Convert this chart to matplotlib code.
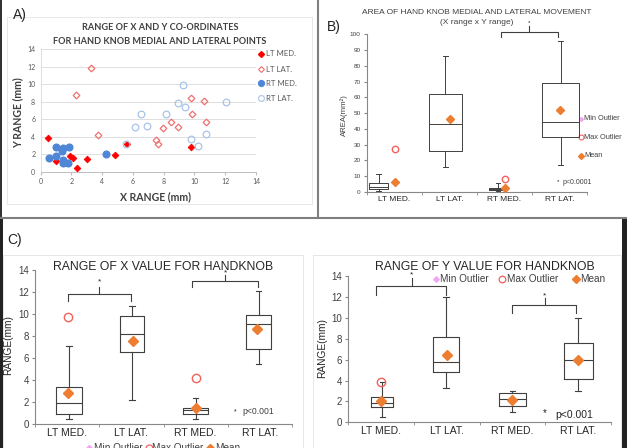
import matplotlib
matplotlib.use("Agg")
import matplotlib.pyplot as plt
from matplotlib.patches import Rectangle

# ---------------- data ----------------
# Panel A scatter
lt_med_x = [0.5, 1.0, 1.9, 2.1, 2.35, 3.0, 4.85, 5.6, 9.8]
lt_med_y = [3.9, 1.25, 1.8, 1.55, 0.5, 1.5, 1.9, 3.25, 2.85]
lt_lat_x = [3.3, 2.3, 3.75, 7.5, 7.6, 7.95, 8.45, 8.9, 9.8, 9.85, 10.65, 10.75]
lt_lat_y = [11.9, 8.8, 4.2, 3.6, 3.15, 5.0, 5.7, 5.15, 8.5, 6.6, 8.1, 5.75]
rt_med_x = [0.55, 1.0, 1.0, 1.4, 1.45, 1.45, 1.45, 1.75, 1.85, 4.25]
rt_med_y = [1.6, 2.9, 1.85, 2.45, 2.75, 1.35, 1.0, 1.05, 2.9, 2.1]
rt_lat_x = [5.55, 6.1, 6.55, 6.9, 8.15, 8.9, 9.25, 9.4, 9.8, 10.25, 10.75, 12.05]
rt_lat_y = [3.2, 5.1, 6.6, 5.3, 6.6, 7.85, 9.9, 7.4, 3.75, 2.95, 4.3, 8.0]
scatter_series = ["LT MED.", "LT LAT.", "RT MED.", "RT LAT."]

categories = ["LT MED.", "LT LAT.", "RT MED.", "RT LAT."]

# Panel B: area
b_lo = [0.8, 15.6, 0.4, 17.3]
b_q1 = [1.7, 25.8, 1.3, 35.1]
b_med = [3.4, 42.9, 2.2, 44.2]
b_q3 = [5.7, 62.2, 2.7, 69.3]
b_hi = [11.4, 86.3, 5.5, 96.0]
b_mean = [6.1, 46.5, 2.5, 52.0]
b_out = [27.5, None, 8.5, None]

# Panel C: x range
c_lo = [0.48, 2.2, 0.48, 5.47]
c_q1 = [0.97, 6.56, 0.9, 6.8]
c_med = [1.97, 8.22, 1.3, 9.07]
c_q3 = [3.42, 9.83, 1.5, 9.92]
c_hi = [7.14, 10.76, 2.36, 12.07]
c_mean = [2.84, 7.56, 1.45, 8.65]
c_out = [9.77, None, 4.23, None]

# Panel D: y range
d_lo = [0.54, 3.25, 1.02, 3.03]
d_q1 = [1.5, 4.82, 1.56, 4.15]
d_med = [1.88, 5.77, 2.26, 5.96]
d_q3 = [2.46, 8.2, 2.77, 7.56]
d_hi = [3.89, 12.02, 2.95, 9.95]
d_mean = [2.07, 6.41, 2.14, 5.96]
d_out = [3.89, None, None, None]

legend_labels = ["Min Outlier", "Max Outlier", "Mean"]

# ---------------- layout helpers ----------------
W, H = 627, 448
plt.rcParams['font.family'] = ['Liberation Sans', 'DejaVu Sans']
fig = plt.figure(figsize=(W / 100, H / 100), dpi=100)
fig.patch.set_facecolor('white')


def rect(x0, y0, x1, y1):
    return [x0 / W, 1 - y1 / H, (x1 - x0) / W, (y1 - y0) / H]


ov = fig.add_axes([0, 0, 1, 1], zorder=-5)
ov.set_xlim(0, W)
ov.set_ylim(H, 0)
ov.axis('off')

ov2 = fig.add_axes([0, 0, 1, 1], zorder=10)
ov2.set_xlim(0, W)
ov2.set_ylim(H, 0)
ov2.axis('off')
ov2.patch.set_alpha(0)

# frames
FR = '#e3e3e3'
ov.add_patch(Rectangle((7, 17), 305, 187, fill=False, ec=FR, lw=0.6))
ov.add_patch(Rectangle((3, 255), 300, 200, fill=False, ec=FR, lw=0.6))
ov.add_patch(Rectangle((313, 255), 308, 200, fill=False, ec=FR, lw=0.6))
ov2.plot([318, 318], [0, 218], color='#7f7f7f', lw=1.5, solid_capstyle='butt')
ov2.plot([0, 627], [218, 218], color='#7f7f7f', lw=1.5, solid_capstyle='butt')
ov2.add_patch(Rectangle((0, 0), 1.5, H, color='#333333', lw=0))
ov2.add_patch(Rectangle((0, 218), 3, H - 218, color='#222222', lw=0))
ov2.add_patch(Rectangle((622, 219), 5, H - 219, color='#222222', lw=0))

MEAN_C = '#ED7D31'
OUT_C = '#F4605C'
MIN_C = '#F2A6F2'
BOX_C = '#404040'

# ---------------- Panel A ----------------
axA = fig.add_axes(rect(40.7, 49.3, 256, 172))
axA.set_facecolor('none')
axA.set_xlim(0, 14)
axA.set_ylim(0, 14)
ticks = list(range(0, 15, 2))
axA.set_xticks(ticks)
axA.set_yticks(ticks)
axA.set_xticklabels([str(t) for t in ticks], fontfamily='Lato', fontsize=5, color='#595959')
axA.set_yticklabels([str(t) for t in ticks], fontfamily='Lato', fontsize=5, color='#595959')
axA.grid(axis='y', color='#d9d9d9', lw=0.6)
axA.set_axisbelow(True)
for s in ['top', 'right']:
    axA.spines[s].set_visible(False)
axA.spines['left'].set_color('#d9d9d9')
axA.spines['left'].set_linewidth(0.6)
axA.spines['bottom'].set_color('#bfbfbf')
axA.spines['bottom'].set_linewidth(0.7)
axA.tick_params(axis='y', length=0, pad=4)
axA.tick_params(axis='x', length=2, color='#bfbfbf', pad=2)

sA = dict(ls='none')
axA.plot(lt_med_x, lt_med_y, 'D', ms=3.4, mfc='#ff0000', mec='#ff0000', mew=0.6, **sA)
axA.plot(lt_lat_x, lt_lat_y, 'D', ms=3.4, mfc='none', mec='#f07070', mew=0.9, **sA)
axA.plot(rt_med_x, rt_med_y, 'o', ms=4.8, mfc='#4f86d6', mec='#4f86d6', **sA)
axA.plot(rt_lat_x, rt_lat_y, 'o', ms=4.8, mfc='none', mec='#a8c3ea', mew=0.9, **sA)

ov.text(160, 28, "RANGE OF X AND Y CO-ORDINATES", ha='center', va='center',
        fontfamily='Lato', fontweight='bold', fontsize=6.6, color='#404040')
ov.text(160, 42, "FOR HAND KNOB MEDIAL AND LATERAL POINTS", ha='center', va='center',
        fontfamily='Lato', fontweight='bold', fontsize=6.6, color='#404040')
ov.text(18, 113, "Y RANGE (mm)", ha='center', va='center', rotation=90,
        fontfamily='Lato', fontweight='bold', fontsize=7.6, color='#404040')
ov.text(156, 197, "X RANGE (mm)", ha='center', va='center',
        fontfamily='Lato', fontweight='bold', fontsize=7.6, color='#404040')
ov.text(20, 15, "A)", ha='center', va='center', fontsize=10, color='#222222')

legA_y = [54, 69.3, 83.3, 98.3]
legA_sty = [
    dict(marker='D', ms=3.0, mfc='#ff0000', mec='#ff0000'),
    dict(marker='D', ms=3.0, mfc='none', mec='#f07070', mew=0.8),
    dict(marker='o', ms=4.2, mfc='#4f86d6', mec='#4f86d6'),
    dict(marker='o', ms=4.2, mfc='none', mec='#a8c3ea', mew=0.8),
]
for yy, lab, st in zip(legA_y, scatter_series, legA_sty):
    ov.plot([261], [yy], ls='none', **st)
    ov.text(266.5, yy, lab, ha='left', va='center', fontfamily='Lato', fontsize=5.6, color='#595959')


# ---------------- box helpers ----------------
def draw_box(ax, lo, q1, med, q3, hi, mean, outs, box_pos, widths, mean_pos, ms_mean, ms_out, lw=0.8):
    stats = [dict(whislo=a, q1=b, med=c, q3=d, whishi=e, fliers=[])
             for a, b, c, d, e in zip(lo, q1, med, q3, hi)]
    ax.bxp(stats, positions=box_pos, widths=widths, showfliers=False, showcaps=True,
           capwidths=[0.08] * len(stats), manage_ticks=False,
           boxprops=dict(color=BOX_C, lw=lw), medianprops=dict(color=BOX_C, lw=lw),
           whiskerprops=dict(color=BOX_C, lw=lw), capprops=dict(color=BOX_C, lw=lw))
    ax.plot(mean_pos, mean, 'D', ms=ms_mean, mfc=MEAN_C, mec=MEAN_C, ls='none', zorder=5)
    for p, o in zip(mean_pos, outs):
        if o is not None:
            ax.plot([p], [o], 'o', ms=ms_out, mfc='none', mec=OUT_C, mew=1.0, zorder=5)


def bracket(ax, x1, x2, xm, y, drop, rise, star_y, fs=5.5):
    ax.plot([x1, x1, x2, x2], [drop, y, y, drop], color=BOX_C, lw=0.8, clip_on=False)
    ax.plot([xm, xm], [y, rise], color=BOX_C, lw=0.8, clip_on=False)
    ax.text(xm, star_y, "*", ha='center', va='center', fontsize=fs, color='#222222', clip_on=False)


def style_cat_axis(ax, ylim, yticks, ysize, xsize, spine_c='#888888'):
    ax.set_facecolor('none')
    ax.set_xlim(0.5, 4.5)
    ax.set_ylim(*ylim)
    ax.set_yticks(yticks)
    ax.set_yticklabels([str(t) for t in yticks], fontsize=ysize, color='#404040')
    ax.set_xticks([1, 2, 3, 4])
    ax.set_xticklabels(categories, fontsize=xsize, color='#262626')
    ax.set_xticks([0.5, 1.5, 2.5, 3.5, 4.5], minor=True)
    for s in ['top', 'right']:
        ax.spines[s].set_visible(False)
    for s in ['left', 'bottom']:
        ax.spines[s].set_color(spine_c)
        ax.spines[s].set_linewidth(0.8)
    ax.tick_params(axis='x', which='major', length=0, pad=3)
    ax.tick_params(axis='x', which='minor', length=2.5, color=spine_c)
    ax.tick_params(axis='y', length=2.5, color=spine_c, pad=2)


# ---------------- Panel B ----------------
axB = fig.add_axes(rect(367, 34.3, 587, 192))
style_cat_axis(axB, (0, 100), list(range(0, 101, 10)), 4.6, 6.0)
draw_box(axB, b_lo, b_q1, b_med, b_q3, b_hi, b_mean, b_out,
         box_pos=[0.71, 1.925, 2.88, 4.02], widths=[0.33, 0.6, 0.33, 0.67],
         mean_pos=[1, 2, 3, 4], ms_mean=3.6, ms_out=4.6, lw=0.7)
bracket(axB, 2.93, 3.98, 3.45, 101.7, 98, 105, 107.5, fs=4.5)
ov.text(477, 13, "AREA OF HAND KNOB MEDIAL AND LATERAL MOVEMENT", ha='center', va='center',
        fontsize=6.0, color='#404040')
ov.text(477, 23, "(X range x Y range)", ha='center', va='center', fontsize=6.0, color='#404040')
ov.text(344, 115, "AREA(mm²)", ha='center', va='center', rotation=90, fontsize=5.6, color='#404040')
ov.text(334, 27, "B)", ha='center', va='center', fontsize=10, color='#222222')
legB_y = [118.7, 137.3, 155.7]
ov.plot([580.7], [legB_y[0]], 'D', ms=2.0, mfc=MIN_C, mec=MIN_C)
ov.plot([580.7], [legB_y[1]], 'o', ms=3.6, mfc='none', mec=OUT_C, mew=0.8)
ov.plot([580.7], [legB_y[2]], 'D', ms=3.0, mfc=MEAN_C, mec=MEAN_C)
for yy, lab in zip(legB_y, legend_labels):
    ov.text(584, yy, lab, ha='left', va='center', fontsize=5.3, color='#404040')
ov.text(558.3, 182, "*", ha='center', va='center', fontsize=4.5, color='#222222')
ov.text(562.5, 182, "p<0.0001", ha='left', va='center', fontsize=5.0, color='#404040')

# ---------------- Panel C ----------------
axC = fig.add_axes(rect(35, 270, 292, 424.3))
style_cat_axis(axC, (0, 14), list(range(0, 15, 2)), 7.0, 7.5)
draw_box(axC, c_lo, c_q1, c_med, c_q3, c_hi, c_mean, c_out,
         box_pos=[1.03, 2.01, 3.0, 3.98], widths=[0.4, 0.38, 0.4, 0.4],
         mean_pos=[1.02, 2.02, 3.0, 3.96], ms_mean=5.0, ms_out=6.0)
bracket(axC, 1.01, 1.99, 1.5, 11.85, 11.2, 12.5, 12.9, fs=6)
bracket(axC, 2.94, 3.97, 3.46, 13.03, 12.5, 13.55, 13.75, fs=6)
ov.text(163, 267, "RANGE OF X VALUE FOR HANDKNOB", ha='center', va='center',
        fontsize=8.8, color='#262626')
ov.text(8, 345, "RANGE(mm)", ha='center', va='center', rotation=90, fontsize=7.3, color='#262626')
ov.text(15, 240, "C)", ha='center', va='center', fontsize=10, color='#222222')
ov.text(235, 411.7, "*", ha='center', va='center', fontsize=5, color='#222222')
ov.text(242.3, 411.7, "p<0.001", ha='left', va='center', fontsize=6.2, color='#404040')
# clipped legend under panel C
ov.plot([89], [448], 'D', ms=3.0, mfc=MIN_C, mec=MIN_C)
ov.text(94, 448, legend_labels[0], ha='left', va='center', fontsize=7.2, color='#404040')
ov.plot([148.5], [448], 'o', ms=5.0, mfc='none', mec=OUT_C, mew=0.9)
ov.text(152, 448, legend_labels[1], ha='left', va='center', fontsize=7.2, color='#404040')
ov.plot([210], [448], 'D', ms=4.0, mfc=MEAN_C, mec=MEAN_C)
ov.text(215, 448, legend_labels[2], ha='left', va='center', fontsize=7.2, color='#404040')

# ---------------- Panel D ----------------
axD = fig.add_axes(rect(348, 276, 611, 422.3))
style_cat_axis(axD, (0, 14), list(range(0, 15, 2)), 7.0, 7.5)
draw_box(axD, d_lo, d_q1, d_med, d_q3, d_hi, d_mean, d_out,
         box_pos=[1.02, 1.99, 3.0, 4.0], widths=[0.34, 0.4, 0.4, 0.44],
         mean_pos=[1.0, 2.0, 3.0, 4.0], ms_mean=5.0, ms_out=6.0)
bracket(axD, 0.92, 1.99, 1.47, 13.04, 12.18, 13.78, 14.1, fs=6)
bracket(axD, 2.99, 3.97, 3.49, 11.22, 10.5, 11.86, 12.1, fs=6)
ov.text(485, 267, "RANGE OF Y VALUE FOR HANDKNOB", ha='center', va='center',
        fontsize=8.8, color='#262626')
ov.text(322, 348, "RANGE(mm)", ha='center', va='center', rotation=90, fontsize=7.3, color='#262626')
ov.plot([436], [279], 'D', ms=2.8, mfc=MIN_C, mec=MIN_C)
ov.text(439.5, 279, legend_labels[0], ha='left', va='center', fontsize=7.2, color='#404040')
ov.plot([502], [279], 'o', ms=4.8, mfc='none', mec=OUT_C, mew=0.9)
ov.text(507, 279, legend_labels[1], ha='left', va='center', fontsize=7.2, color='#404040')
ov.plot([576], [279], 'D', ms=3.8, mfc=MEAN_C, mec=MEAN_C)
ov.text(580, 279, legend_labels[2], ha='left', va='center', fontsize=7.2, color='#404040')
ov.text(544.3, 413, "*", ha='center', va='center', fontsize=7, color='#222222')
ov.text(555, 415, "p<0.001", ha='left', va='center', fontsize=7.5, color='#262626')

fig.savefig("out.png", dpi=100, facecolor='white')
